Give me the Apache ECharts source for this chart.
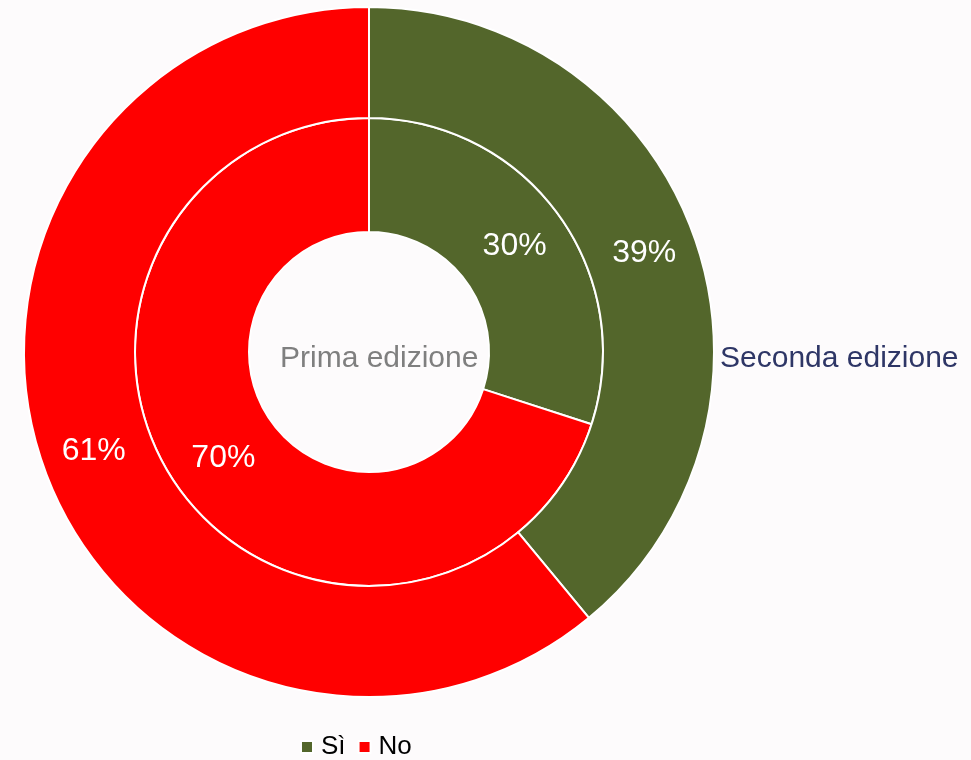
<!DOCTYPE html>
<html>
<head>
<meta charset="utf-8">
<script src="https://cdn.jsdelivr.net/npm/echarts@6/dist/echarts.min.js"></script>
<style>
  html, body { margin: 0; padding: 0; background: #fdfbfc; }
  #chart { width: 971px; height: 760px; }
</style>
</head>
<body>
<div id="chart"></div>
<script>
  var categories = ['Sì', 'No']
  var colors = ['#53662b', '#ff0000']
  var primaEdizione = [30, 70]
  var secondaEdizione = [39, 61]

  function toData (values) {
    return values.map(function (v, i) {
      return { name: categories[i], value: v, itemStyle: { color: colors[i] } }
    })
  }

  var font = 'Liberation Sans, Arial, sans-serif'

  var labelStyle = {
    show: true,
    position: 'inside',
    formatter: '{c}%',
    color: '#ffffff',
    fontSize: 32,
    fontFamily: font
  }

  var myEcharts = echarts.init(document.getElementById('chart'))
  myEcharts.setOption({
    backgroundColor: '#fdfbfc',
    animation: false,
    title: [
      {
        text: 'Prima edizione',
        left: 280,
        top: 344,
        padding: 0,
        textStyle: { color: '#7f7f7f', fontSize: 30, fontWeight: 'normal', fontFamily: font }
      },
      {
        text: 'Seconda edizione',
        left: 720,
        top: 344,
        padding: 0,
        textStyle: { color: '#2e3666', fontSize: 30, fontWeight: 'normal', fontFamily: font }
      }
    ],
    legend: {
      data: categories,
      left: 300,
      top: 734,
      padding: 0,
      icon: 'rect',
      itemWidth: 12,
      itemHeight: 12,
      itemGap: 12,
      textStyle: { color: '#000000', fontSize: 26, fontFamily: font, padding: [0, 0, 0, 3] }
    },
    series: [
      {
        name: 'Prima edizione',
        type: 'pie',
        center: [369, 352],
        radius: [120, 234],
        startAngle: 90,
        clockwise: true,
        label: labelStyle,
        labelLine: { show: false },
        itemStyle: { borderColor: '#ffffff', borderWidth: 2 },
        data: toData(primaEdizione)
      },
      {
        name: 'Seconda edizione',
        type: 'pie',
        center: [369, 352],
        radius: [234, 345],
        startAngle: 90,
        clockwise: true,
        label: labelStyle,
        labelLine: { show: false },
        itemStyle: { borderColor: '#ffffff', borderWidth: 2 },
        data: toData(secondaEdizione)
      }
    ]
  })
</script>
</body>
</html>
